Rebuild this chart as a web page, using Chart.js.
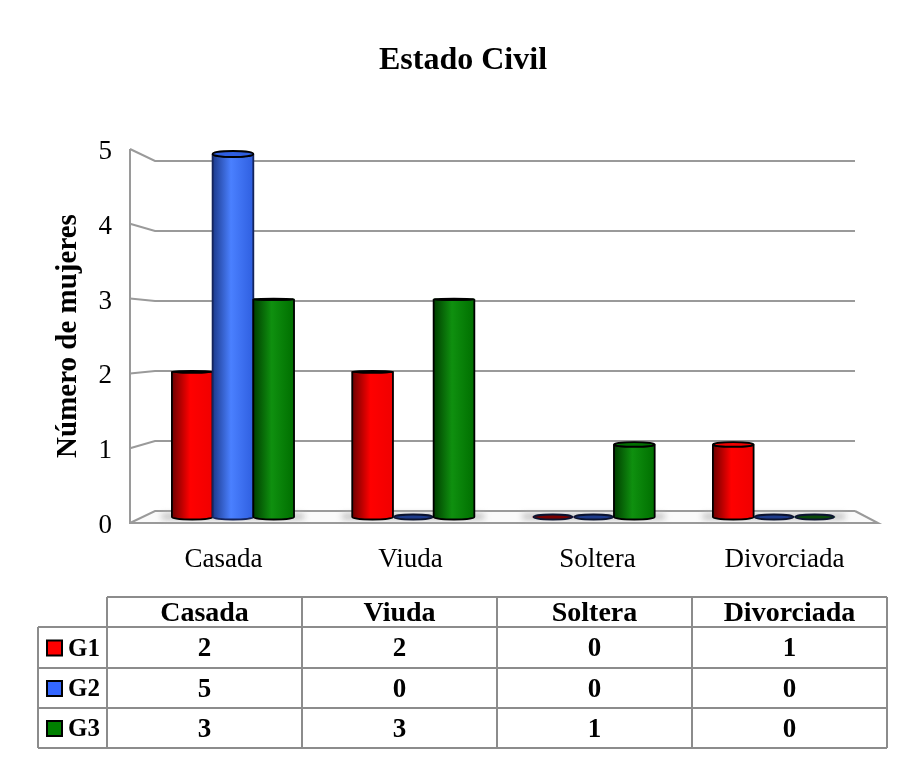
<!DOCTYPE html>
<html>
<head>
<meta charset="utf-8">
<style>
  html, body { margin: 0; background: #fff; }
  canvas { display: block; }
</style>
<script src="https://cdn.jsdelivr.net/npm/chart.js@4/dist/chart.umd.min.js"></script>
</head>
<body>
<canvas id="chart" width="905" height="773"></canvas>
<script>
const categories = ["Casada", "Viuda", "Soltera", "Divorciada"];
const seriesNames = ["G1", "G2", "G3"];
const g1 = [2, 2, 0, 1];
const g2 = [5, 0, 0, 0];
const g3 = [3, 3, 1, 0];
const yTicks = [0, 1, 2, 3, 4, 5];

const FONT = '"Liberation Serif"';
const GRID = '#9a9a9a';
const TABLE_LINE = '#8c8c8c';

const fills = [
    { dark: '#6e0000', mid: '#ff0000', end: '#f00000', disc: '#7a0000', line: '#000000' },
    { dark: '#1c3a8c', mid: '#4a80ff', end: '#2f5fe0', disc: '#1e3c8c', line: '#14245c' },
    { dark: '#003f00', mid: '#0f900f', end: '#006f00', disc: '#0a4a0a', line: '#000000' }
];

function toPoints(values) {
    return values.map((v, i) => ({ x: i, y: v }));
}

// back wall and floor, drawn in a fake perspective from the value axis
const wallPlugin = {
    id: 'wall',
    beforeDatasetsDraw(chart) {
        const ctx = chart.ctx;
        const y = chart.scales.y;
        const a = chart.chartArea;
        const backL = a.left + 25, backR = a.right - 23;
        const backY = v => 511 - (a.bottom - y.getPixelForValue(v)) * 70 / 74.8;

        ctx.save();
        ctx.beginPath();
        ctx.moveTo(a.left, a.bottom);
        ctx.lineTo(backL, backY(0));
        ctx.lineTo(backR, backY(0));
        ctx.lineTo(a.right, a.bottom);
        ctx.closePath();
        ctx.fillStyle = '#fafafa';
        ctx.fill();

        ctx.strokeStyle = GRID;
        ctx.lineWidth = 2;
        ctx.beginPath();
        ctx.moveTo(a.left, y.getPixelForValue(5));
        ctx.lineTo(a.left, a.bottom);
        ctx.lineTo(a.right, a.bottom);
        ctx.lineTo(backR, backY(0));
        ctx.stroke();
        yTicks.forEach(t => {
            ctx.beginPath();
            ctx.moveTo(a.left, y.getPixelForValue(t));
            ctx.lineTo(backL, backY(t));
            ctx.lineTo(backR, backY(t));
            ctx.stroke();
        });

        // soft shadow on the floor under each group of bars
        const metas = [0, 1, 2].map(i => chart.getDatasetMeta(i).data);
        ctx.filter = 'blur(3px)';
        ctx.fillStyle = '#b4b4b4';
        categories.forEach((c, i) => {
            const l = metas[0][i].x - metas[0][i].width / 2 - 10;
            const r = metas[2][i].x + metas[2][i].width / 2 + 10;
            ctx.fillRect(l, 514, r - l, 5);
        });
        ctx.restore();
    }
};

// turns the flat bars into cylinders
const cylinderPlugin = {
    id: 'cylinder',
    afterDatasetsDraw(chart) {
        const ctx = chart.ctx;
        chart.data.datasets.forEach((ds, d) => {
            const f = fills[d];
            chart.getDatasetMeta(d).data.forEach((bar, i) => {
                const l = bar.x - bar.width / 2;
                const r = bar.x + bar.width / 2;
                const cx = bar.x, rx = bar.width / 2;
                ctx.save();
                ctx.lineWidth = 1.8;
                ctx.strokeStyle = f.line;
                if (ds.data[i].y === 0) {
                    ctx.beginPath();
                    ctx.ellipse(cx, bar.base, rx - 1, 2.5, 0, 0, Math.PI * 2);
                    ctx.fillStyle = f.disc;
                    ctx.fill();
                    ctx.strokeStyle = '#0c1430';
                    ctx.stroke();
                    ctx.restore();
                    return;
                }
                const g = ctx.createLinearGradient(l, 0, r, 0);
                g.addColorStop(0, f.dark);
                g.addColorStop(0.45, f.mid);
                g.addColorStop(1, f.end);
                const ry = Math.min(3, Math.abs(bar.y - 330) / 50);
                ctx.beginPath();
                ctx.moveTo(l, bar.y);
                ctx.lineTo(l, bar.base);
                ctx.ellipse(cx, bar.base, rx, 2.5, 0, Math.PI, 0, true);
                ctx.lineTo(r, bar.y);
                ctx.ellipse(cx, bar.y, rx, ry, 0, 0, Math.PI);
                ctx.closePath();
                ctx.fillStyle = g;
                ctx.fill();
                ctx.stroke();
                // cap
                ctx.beginPath();
                ctx.ellipse(cx, bar.y, rx, ry, 0, 0, Math.PI * 2);
                ctx.fillStyle = f.end;
                ctx.fill();
                ctx.strokeStyle = '#000';
                ctx.stroke();
                ctx.restore();
            });
        });
    }
};

// data table under the chart
const tablePlugin = {
    id: 'dataTable',
    afterDraw(chart) {
        const ctx = chart.ctx;
        const rowX = 38, firstX = 107, colW = 195, endX = firstX + colW * categories.length;
        const rows = [597, 627, 668, 708, 748];
        const rowData = [g1, g2, g3];
        ctx.save();
        ctx.strokeStyle = TABLE_LINE;
        ctx.lineWidth = 2;
        ctx.beginPath();
        ctx.moveTo(firstX, rows[0]);
        ctx.lineTo(endX, rows[0]);
        rows.slice(1).forEach(y => {
            ctx.moveTo(rowX, y);
            ctx.lineTo(endX, y);
        });
        ctx.moveTo(rowX, rows[1]);
        ctx.lineTo(rowX, rows[4]);
        for (let c = 0; c <= categories.length; c++) {
            ctx.moveTo(firstX + colW * c, rows[0]);
            ctx.lineTo(firstX + colW * c, rows[4]);
        }
        ctx.stroke();

        ctx.fillStyle = '#000';
        ctx.textBaseline = 'middle';
        ctx.textAlign = 'center';
        ctx.font = 'bold 28px ' + FONT;
        categories.forEach((c, i) => ctx.fillText(c, firstX + colW * (i + 0.5), 614));
        rowData.forEach((vals, r) => {
            const cy = (rows[r + 1] + rows[r + 2]) / 2 + 2;
            ctx.font = 'bold 27px ' + FONT;
            vals.forEach((v, i) => ctx.fillText(String(v), firstX + colW * (i + 0.5), cy));
            ctx.font = 'bold 25px ' + FONT;
            ctx.textAlign = 'left';
            ctx.fillText(seriesNames[r], 68, cy);
            ctx.textAlign = 'center';
            ctx.fillStyle = chart.data.datasets[r].backgroundColor;
            ctx.strokeStyle = '#000';
            ctx.fillRect(47, cy - 9, 15, 15);
            ctx.strokeRect(47, cy - 9, 15, 15);
            ctx.fillStyle = '#000';
        });
        ctx.restore();
    }
};

new Chart(document.getElementById('chart'), {
    type: 'bar',
    data: {
        labels: categories,
        datasets: [
            { label: seriesNames[0], data: toPoints(g1), backgroundColor: '#ff0000', xAxisID: 'xBars', yAxisID: 'yBars', barThickness: 40.7 },
            { label: seriesNames[1], data: toPoints(g2), backgroundColor: '#3366ff', xAxisID: 'xBars', yAxisID: 'yBars', barThickness: 40.7 },
            { label: seriesNames[2], data: toPoints(g3), backgroundColor: '#008000', xAxisID: 'xBars', yAxisID: 'yBars', barThickness: 40.7 }
        ]
    },
    plugins: [wallPlugin, cylinderPlugin, tablePlugin],
    options: {
        responsive: false,
        animation: false,
        layout: { padding: { left: 48, right: 27, top: 0, bottom: 0 } },
        plugins: {
            legend: { display: false },
            tooltip: { enabled: false },
            title: {
                display: true,
                text: 'Estado Civil',
                color: '#000',
                font: { family: FONT, size: 32, weight: 'bold', lineHeight: 1.2 },
                padding: { top: 42, bottom: 68.6 }
            }
        },
        scales: {
            x: {
                type: 'category',
                grid: { display: false },
                border: { display: false },
                ticks: { color: '#000', font: { family: FONT, size: 27 }, padding: 13, maxRotation: 0 },
                afterFit(scale) { scale.height = 250; }
            },
            y: {
                min: 0,
                max: 5,
                grid: { display: false },
                border: { display: false },
                ticks: { stepSize: 1, color: '#000', font: { family: FONT, size: 27 }, padding: 10, labelOffset: 3 },
                title: {
                    display: true,
                    text: 'Número de mujeres',
                    color: '#000',
                    font: { family: FONT, size: 29, weight: 'bold' },
                    padding: { top: 3, bottom: 0 }
                },
                afterFit(scale) { scale.width = 82; }
            },
            // bars stand further back than the front axes, so they get their own hidden scales
            xBars: { type: 'linear', display: false, offset: false, min: -0.571, max: 3.577 },
            yBars: { display: false, min: -0.0826, max: 5.0689 }
        }
    }
});
</script>
</body>
</html>
